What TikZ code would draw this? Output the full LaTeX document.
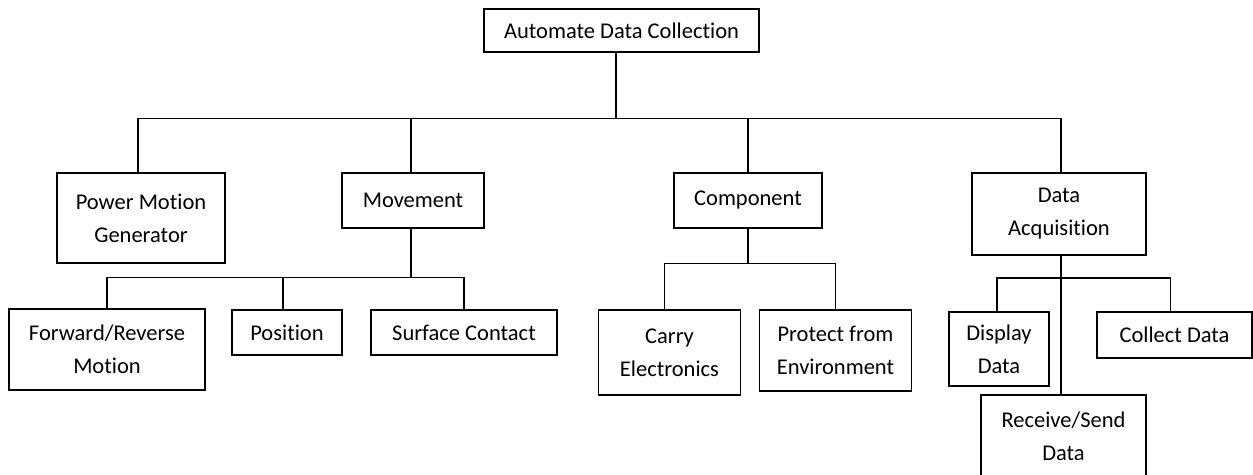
\documentclass[tikz,border=0pt]{standalone}
\usepackage{fontspec}
\setmainfont{Carlito}[Ligatures=NoCommon]
\begin{document}
\begin{tikzpicture}[x=1pt,y=-1pt,
    blk/.style={draw,line width=1.1pt,align=center,inner sep=0pt,
      font=\fontsize{22.5}{33}\selectfont},
    wire/.style={line width=1.1pt}]
  \clip (0,0) rectangle (1253,474);
  % top level
  \node[blk,minimum width=275pt,minimum height=43pt](root)at(621.5,30.5){Automate Data Collection};
  % second level
  \node[blk,minimum width=168pt,minimum height=90pt](pmg)at(141,218){Power Motion\\Generator};
  \node[blk,minimum width=142pt,minimum height=55pt](mov)at(413,200.5){Movement};
  \node[blk,minimum width=148pt,minimum height=55pt](cmp)at(748,200.5){Component};
  \node[blk,minimum width=174pt,minimum height=82pt](dac)at(1059,214){Data\\Acquisition};
  % third level
  \node[blk,minimum width=196pt,minimum height=81pt](fwd)at(107,349.5){Forward/Reverse\\Motion};
  \node[blk,minimum width=110pt,minimum height=45pt](pos)at(287,332.5){Position};
  \node[blk,minimum width=186pt,minimum height=45pt](srf)at(464,332.5){Surface Contact};
  \node[blk,minimum width=142pt,minimum height=85pt](car)at(669.5,352.5){Carry\\Electronics};
  \node[blk,minimum width=152pt,minimum height=81pt](prt)at(835.5,350.5){Protect from\\Environment};
  \node[blk,minimum width=100pt,minimum height=74pt](dsp)at(999,349){Display\\Data};
  \node[blk,minimum width=155pt,minimum height=46pt](col)at(1174.5,335){Collect Data};
  \node[blk,minimum width=165pt,minimum height=82pt](rcv)at(1063.5,436){Receive/Send\\Data};

  % connectors
  \draw[wire]([xshift=-5.5pt]root.south)--++(0,66)coordinate(b1);
  \draw[wire]([xshift=-3pt]pmg.north)--([xshift=-3pt]pmg.north|-b1)--([xshift=2pt]dac.north|-b1)--([xshift=2pt]dac.north);
  \draw[wire]([xshift=-2pt]mov.north)--([xshift=-2pt]mov.north|-b1);
  \draw[wire](cmp.north)--(cmp.north|-b1);

  \draw[wire]([xshift=-2pt]mov.south)--++(0,49)coordinate(b2);
  \draw[wire](fwd.north)--(fwd.north|-b2)--(srf.north|-b2)--(srf.north);
  \draw[wire]([xshift=-4pt]pos.north)--([xshift=-4pt]pos.north|-b2);

  \draw[wire](cmp.south)--++(0,35)coordinate(b3);
  \draw[wire]([xshift=-5pt]car.north)--([xshift=-5pt]car.north|-b3)--(prt.north|-b3)--(prt.north);

  \draw[wire]([xshift=2pt]dac.south)--([xshift=2pt]dac.south|-rcv.north);
  \draw[wire]([xshift=-2pt]dsp.north)--([xshift=-2pt]dsp.north|-0,278)--([xshift=-4pt]col.north|-0,278)--([xshift=-4pt]col.north);
\end{tikzpicture}
\end{document}
